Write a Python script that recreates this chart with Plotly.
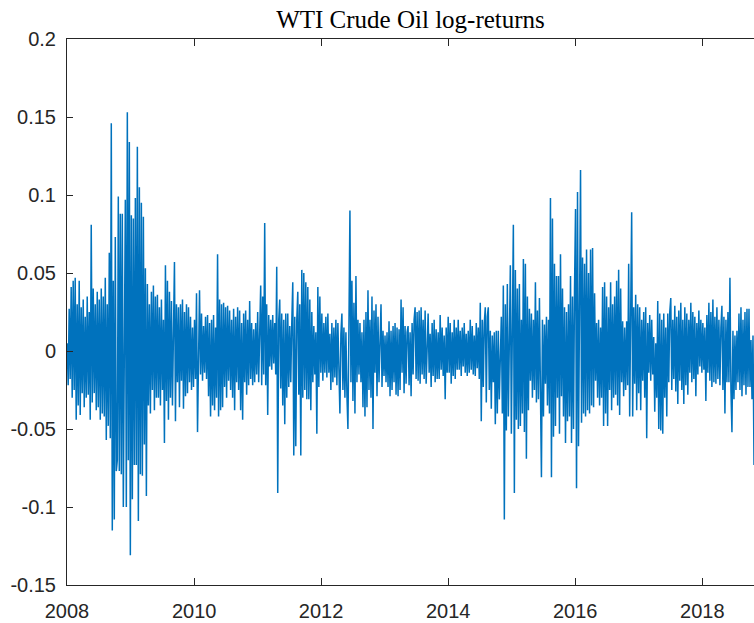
import pandas as pd
import plotly.graph_objects as go

# Daily WTI log-returns (roughly one value per pixel column)
ret_2008_2009 = [
    0.005, -0.022, 0.027, -0.018, 0.041, -0.030, 0.045, -0.025, 0.047, -0.044,
    0.030, -0.035, 0.045, -0.041, 0.028, -0.027, 0.033, -0.036, 0.022, -0.030,
    0.035, -0.028, 0.025, -0.044, 0.081, -0.033, 0.040, -0.027, 0.030, -0.038,
    0.038, -0.036, 0.033, -0.044, 0.040, -0.040, 0.035, -0.042, 0.047, -0.057,
    0.030, -0.048, 0.063, -0.056, 0.146, -0.115, 0.045, -0.108, 0.073, -0.077,
    -0.070, 0.099, -0.077, 0.088, -0.079, 0.088, -0.100, 0.055, 0.097, -0.100,
    0.153, -0.070, 0.134, -0.131, 0.087, -0.095, 0.085, -0.073, 0.098, -0.073,
    0.131, -0.109, 0.105, -0.079, 0.095, -0.080, 0.086, -0.060, 0.053, -0.093,
    0.043, -0.035, 0.030, -0.040, 0.038, -0.025, 0.042, -0.038, 0.035, -0.030,
    0.036, -0.030, 0.028, -0.035, 0.033, -0.025, 0.020, -0.059, 0.055, -0.032,
    0.045, -0.044, 0.038, -0.030, 0.032, -0.035, 0.025, 0.057, -0.045, 0.030,
    -0.020, 0.028, -0.036, 0.030, -0.019, 0.033, -0.037, 0.025, -0.029, 0.030,
    -0.027, 0.028, -0.020, 0.022, -0.025, 0.015, -0.023, 0.020, -0.018, 0.037,
]
ret_2010_2011 = [
    -0.052, 0.020, 0.039, -0.015, 0.024, -0.019, 0.016, -0.014, 0.022, -0.018,
    0.023, -0.029, 0.018, -0.042, 0.020, -0.035, 0.023, -0.038, 0.015, -0.030,
    0.062, -0.042, 0.033, -0.038, 0.030, -0.036, 0.031, -0.023, 0.028, -0.030,
    0.029, -0.019, 0.026, -0.025, 0.020, -0.030, 0.027, -0.038, 0.022, -0.020,
    0.028, -0.025, 0.026, -0.038, 0.018, -0.044, 0.024, -0.020, 0.026, -0.028,
    0.020, -0.022, 0.032, -0.018, 0.018, -0.022, 0.014, -0.020, 0.018, -0.015,
    0.025, -0.020, 0.015, 0.042, -0.022, 0.035, -0.015, 0.082, -0.022, 0.030,
    -0.041, 0.023, -0.010, 0.020, -0.012, 0.023, -0.008, 0.018, -0.015, 0.054,
    -0.091, 0.020, 0.033, -0.024, 0.024, -0.035, 0.020, -0.047, 0.024, -0.030,
    0.024, -0.023, 0.016, -0.020, 0.018, 0.044, -0.067, 0.022, -0.061, 0.020,
    0.038, -0.028, 0.030, -0.067, 0.052, -0.030, 0.050, -0.025, 0.044, -0.031,
    0.041, -0.031, 0.033, -0.038, 0.025, -0.020, 0.016, -0.015, 0.012, -0.053,
    0.041, -0.023, 0.035, -0.014, 0.024, -0.019, 0.018, -0.014, 0.022, -0.017,
]
ret_2012_2013 = [
    0.024, -0.014, 0.011, -0.025, 0.018, -0.020, 0.015, -0.017, 0.020, -0.022,
    0.018, -0.023, -0.040, 0.011, 0.024, -0.025, 0.015, -0.030, 0.012, -0.028,
    -0.050, 0.015, 0.090, -0.020, 0.045, -0.032, 0.031, -0.040, 0.048, -0.020,
    0.020, -0.015, 0.018, -0.020, 0.012, -0.036, 0.020, -0.042, 0.025, -0.036,
    0.039, -0.025, 0.020, -0.030, 0.035, -0.050, 0.026, -0.014, 0.030, -0.029,
    0.022, -0.020, 0.018, 0.030, -0.023, 0.013, -0.016, 0.010, -0.020, 0.012,
    -0.023, 0.019, -0.029, 0.013, -0.025, 0.016, -0.020, 0.018, -0.028, 0.015,
    -0.029, 0.014, -0.025, 0.033, -0.014, 0.028, -0.027, 0.016, -0.021, 0.012,
    0.016, -0.022, 0.012, -0.029, 0.018, -0.015, 0.020, 0.028, -0.018, 0.025,
    -0.019, 0.026, -0.021, 0.028, -0.015, 0.020, -0.018, 0.026, -0.021, 0.015,
    0.024, -0.014, 0.011, -0.023, 0.018, -0.016, 0.020, -0.020, 0.014, -0.018,
    0.012, -0.018, 0.023, -0.012, 0.015, -0.016, 0.010, -0.031, 0.015, -0.014,
]
ret_2014_2015 = [
    0.022, -0.014, 0.018, -0.021, 0.012, -0.016, 0.020, -0.018, 0.015, -0.012,
    0.020, -0.012, 0.013, -0.016, 0.015, -0.010, 0.018, -0.014, 0.011, -0.016,
    0.013, -0.014, 0.020, -0.012, 0.016, -0.015, 0.010, -0.016, 0.018, -0.011,
    0.015, -0.018, 0.031, -0.045, 0.020, -0.023, 0.018, 0.028, -0.033, 0.022,
    0.028, -0.025, 0.013, -0.037, 0.010, -0.020, 0.012, -0.047, 0.013, -0.040,
    0.013, -0.031, 0.010, 0.022, -0.040, 0.042, -0.108, 0.030, -0.051, 0.043,
    -0.042, 0.035, 0.055, -0.053, 0.040, 0.081, -0.091, 0.052, -0.044, 0.040,
    -0.050, 0.043, -0.048, 0.020, -0.040, 0.059, -0.052, 0.056, -0.069, 0.035,
    -0.038, 0.027, -0.019, 0.024, -0.030, 0.020, -0.025, 0.044, -0.033, 0.026,
    -0.031, 0.034, -0.025, -0.081, 0.020, -0.042, 0.017, -0.021, 0.022, -0.035,
    0.020, -0.040, 0.098, -0.081, 0.085, -0.055, 0.056, -0.048, 0.048, -0.030,
    0.048, -0.053, 0.062, -0.029, 0.040, -0.042, 0.028, -0.059, 0.025, -0.045,
    0.030, -0.042, 0.048, -0.059, 0.035, -0.050, 0.040, 0.091, -0.088, 0.102,
]
ret_2016_2017 = [
    -0.061, 0.078, 0.116, -0.046, 0.060, -0.040, 0.056, -0.042, 0.065, -0.038,
    0.050, -0.040, 0.065, -0.035, 0.066, -0.036, 0.037, -0.019, 0.018, -0.030,
    0.020, -0.035, 0.015, -0.030, 0.041, -0.048, 0.044, -0.040, 0.035, -0.048,
    0.028, -0.025, 0.044, -0.038, 0.030, -0.030, 0.035, -0.028, 0.045, -0.035,
    0.052, -0.041, 0.040, -0.020, 0.019, -0.029, 0.015, -0.025, 0.019, -0.022,
    0.056, -0.042, 0.030, 0.089, -0.042, 0.028, -0.021, 0.036, -0.038, 0.030,
    -0.027, 0.028, -0.038, 0.020, -0.019, 0.025, -0.030, 0.028, -0.056, 0.018,
    -0.014, 0.023, -0.019, 0.020, -0.015, 0.009, -0.039, 0.005, -0.030, 0.032,
    -0.050, 0.024, -0.051, 0.020, -0.053, 0.024, -0.030, 0.015, -0.042, 0.024,
    -0.020, 0.025, 0.034, -0.025, 0.020, -0.018, 0.029, -0.026, 0.022, -0.034,
    0.026, -0.019, 0.031, -0.025, 0.020, -0.034, 0.028, -0.022, 0.024, -0.028,
    0.020, -0.014, 0.031, -0.020, 0.025, -0.018, 0.022, -0.029, 0.018, -0.015,
    0.026, -0.010, 0.020, -0.014, 0.018, -0.012, 0.015, -0.032, 0.023, -0.014,
]
ret_2018 = [
    0.031, -0.019, 0.025, -0.023, 0.033, -0.020, 0.022, -0.021, 0.028, -0.018,
    0.020, -0.022, 0.015, 0.029, -0.025, 0.022, -0.040, 0.020, -0.020, 0.025,
    -0.020, 0.047, -0.025, -0.052, 0.013, -0.031, 0.010, -0.025, 0.013, -0.020,
    0.024, -0.025, 0.028, -0.029, 0.020, -0.022, 0.025, -0.028, 0.027, -0.023,
    0.027, -0.023, 0.007, -0.031, 0.010, -0.073,
]

start_date = "2008-01-02"
end_date = "2018-10-25"
axis_start = "2008-01-01"

y_tick_vals = [-0.15, -0.1, -0.05, 0, 0.05, 0.1, 0.15, 0.2]
y_tick_text = ["-0.15", "-0.1", "-0.05", "0", "0.05", "0.1", "0.15", "0.2"]
x_tick_vals = ["2008-01-01", "2010-01-01", "2012-01-01", "2014-01-01", "2016-01-01", "2018-01-01"]
x_tick_text = ["2008", "2010", "2012", "2014", "2016", "2018"]

returns = (ret_2008_2009 + ret_2010_2011 + ret_2012_2013
           + ret_2014_2015 + ret_2016_2017 + ret_2018)
dates = pd.date_range(start_date, end_date, periods=len(returns))

fig = go.Figure()
fig.add_trace(go.Scatter(
    x=dates, y=returns, mode="lines",
    line=dict(color="#0072BD", width=1.5),
    showlegend=False, hoverinfo="skip",
))

axis_color = "#262626"
fig.update_layout(
    width=754, height=623,
    margin=dict(l=67, r=0, t=39, b=38),
    paper_bgcolor="white", plot_bgcolor="white",
    title=dict(
        text="WTI Crude Oil log-returns",
        font=dict(family="Liberation Serif", size=25, color="#000000"),
        x=0.5, xref="paper", xanchor="center",
        y=1 - 19 / 623, yref="container", yanchor="middle",
    ),
    font=dict(family="Liberation Sans", size=20, color=axis_color),
)
fig.update_xaxes(
    type="date", range=[axis_start, end_date],
    tickvals=x_tick_vals, ticktext=x_tick_text,
    showline=True, linecolor=axis_color, linewidth=1, mirror="ticks",
    ticks="inside", ticklen=7, tickcolor=axis_color, tickwidth=1,
    showgrid=False, zeroline=False, ticklabelstandoff=8,
)
fig.update_yaxes(
    range=[-0.15, 0.2],
    tickvals=y_tick_vals, ticktext=y_tick_text,
    showline=True, linecolor=axis_color, linewidth=1, mirror=False,
    ticks="inside", ticklen=6, tickcolor=axis_color, tickwidth=1,
    showgrid=False, zeroline=False, ticklabelstandoff=6,
)

fig.write_html(
    "out.html",
    config={"displayModeBar": False},
    post_script="document.body.style.margin='0px';",
)
